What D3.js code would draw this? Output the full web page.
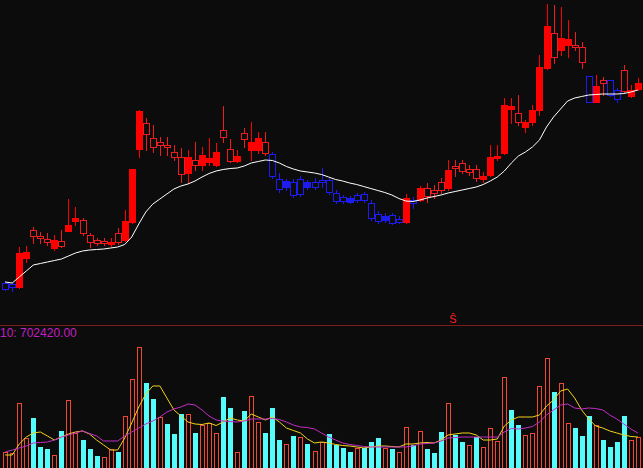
<!DOCTYPE html>
<html><head><meta charset="utf-8">
<script src="https://cdn.jsdelivr.net/npm/d3@7/dist/d3.min.js"></script>
<style>html,body{margin:0;padding:0;background:#0c0c0c;overflow:hidden}svg{display:block}</style>
</head><body><div id="chart"></div>
<script>
// ---- data ----
const openP  = [5.14,5.12,5.06,5.64,6.20,6.08,6.02,5.84,5.98,6.18,6.38,6.40,6.10,6.00,5.98,5.92,6.14,6.00,6.36,7.82,8.34,8.04,7.96,7.90,7.76,7.66,7.34,7.60,7.50,7.56,7.50,8.20,7.82,7.58,8.14,7.80,7.80,7.96,7.72,7.22,7.06,7.16,7.22,7.06,7.16,7.20,7.20,6.94,6.86,6.76,6.90,6.92,6.74,6.52,6.40,6.50,6.42,6.36,6.80,6.80,7.04,7.00,7.16,7.04,7.48,7.54,7.42,7.42,7.22,7.30,7.64,7.74,8.62,8.54,8.26,8.36,8.60,9.44,10.14,9.80,9.90,9.90,9.86,9.28,8.76,9.20,9.20,9.00,9.40,8.88,9.02];
const highP  = [5.18,5.16,5.86,5.88,6.26,6.16,6.14,6.10,6.20,6.82,6.66,6.44,6.14,6.04,6.04,6.04,6.24,6.60,7.42,8.60,8.44,8.30,8.06,8.06,7.90,7.84,7.80,7.96,7.86,8.04,7.94,8.68,8.02,7.80,8.24,8.36,8.16,8.16,7.76,7.34,7.22,7.22,7.28,7.20,7.24,7.44,7.24,7.00,6.90,6.88,6.94,6.96,6.80,6.58,6.54,6.54,6.48,6.92,6.86,7.08,7.14,7.10,7.24,7.60,7.60,7.60,7.50,7.50,7.36,7.90,7.90,8.84,8.84,8.90,8.40,8.70,9.70,10.72,10.70,10.66,10.40,10.16,9.96,9.28,9.30,9.26,9.20,9.04,9.50,9.10,9.24];
const lowP   = [5.00,4.98,5.04,5.56,5.94,5.94,5.90,5.80,5.86,6.18,6.30,6.10,5.86,5.90,5.90,5.88,5.92,5.98,6.34,7.66,7.80,7.76,7.70,7.70,7.60,7.16,7.14,7.40,7.40,7.50,7.48,7.96,7.56,7.56,7.86,7.60,7.74,7.70,7.24,6.96,7.00,6.86,6.88,7.02,7.02,7.06,6.92,6.74,6.74,6.74,6.76,6.76,6.40,6.34,6.36,6.32,6.34,6.34,6.64,6.78,6.76,6.84,6.94,7.00,7.28,7.34,7.30,7.18,7.16,7.28,7.60,7.72,8.34,8.30,8.16,8.30,8.50,9.42,9.54,9.70,9.66,9.80,9.44,8.76,8.76,8.90,8.88,8.76,8.96,8.86,9.00];
const closeP = [5.02,5.06,5.74,5.76,6.08,6.04,5.96,6.00,5.88,6.30,6.44,6.14,5.96,5.94,5.94,5.96,5.96,6.38,7.42,8.58,8.12,7.86,7.90,7.86,7.66,7.32,7.66,7.50,7.70,7.64,7.76,8.06,7.58,7.68,8.02,7.96,8.04,7.74,7.28,7.02,7.18,6.90,6.92,7.16,7.06,7.16,6.96,6.78,6.78,6.84,6.80,6.80,6.44,6.38,6.48,6.34,6.36,6.84,6.74,7.04,6.88,6.94,7.00,7.40,7.44,7.38,7.36,7.24,7.28,7.66,7.68,8.70,8.68,8.36,8.36,8.60,9.46,10.28,9.66,10.04,10.02,9.86,9.56,8.76,9.08,9.14,8.90,8.82,8.98,9.00,9.14];
// 1 = red (trend up), 0 = blue (trend down)
const trend  = [0,0,1,1,1,1,1,1,1,1,1,1,1,1,1,1,1,1,1,1,1,1,1,1,1,1,1,1,1,1,1,1,1,1,1,1,1,1,0,0,0,0,0,0,0,0,0,0,0,0,0,0,0,0,0,0,0,1,0,1,1,1,1,1,1,1,1,1,1,1,1,1,1,1,1,1,1,1,1,1,1,1,1,0,1,1,0,0,1,1,1];
const maP    = [5.16,5.14,5.26,5.38,5.50,5.53,5.56,5.59,5.62,5.68,5.74,5.78,5.80,5.81,5.82,5.84,5.86,5.91,6.06,6.32,6.56,6.72,6.82,6.92,7.02,7.08,7.12,7.18,7.26,7.33,7.38,7.41,7.43,7.44,7.48,7.54,7.57,7.60,7.59,7.54,7.47,7.42,7.38,7.36,7.34,7.31,7.26,7.21,7.18,7.14,7.11,7.07,7.03,6.99,6.95,6.90,6.83,6.78,6.77,6.80,6.84,6.87,6.90,6.94,6.97,7.00,7.03,7.06,7.11,7.18,7.26,7.38,7.54,7.68,7.76,7.86,8.00,8.26,8.46,8.62,8.78,8.84,8.87,8.90,8.91,8.92,8.92,8.92,8.93,8.96,9.00];
const volume = [327000,307000,1298000,596000,1009000,427000,387000,255000,749000,1365000,708000,562000,387000,247000,227000,375000,327000,1044000,1786000,2422000,1712000,1379000,1018000,883000,682000,1084000,1084000,708000,863000,897000,708000,1431000,1210000,327000,1150000,1445000,923000,708000,1210000,562000,482000,642000,628000,482000,347000,528000,682000,462000,395000,327000,395000,395000,522000,596000,395000,375000,327000,817000,462000,749000,375000,307000,729000,1311000,662000,528000,462000,616000,427000,797000,548000,1820000,1164000,863000,662000,696000,1646000,2202000,1531000,1712000,897000,809000,642000,1044000,863000,562000,427000,528000,1044000,562000,628000];
// 1 = up volume (hollow red), 0 = down volume (cyan)
const volUp  = [1,1,1,1,0,0,0,1,0,1,1,0,0,0,1,1,0,1,1,1,0,0,1,0,0,0,1,0,1,1,1,0,0,1,0,1,1,0,0,0,1,0,1,0,1,1,0,0,0,0,1,0,0,0,1,0,1,1,0,1,0,0,0,1,0,0,1,0,1,1,1,1,0,0,1,1,1,1,0,1,1,0,0,0,1,0,0,0,0,1,1];
const volMA5 = [261000,261000,482000,622000,703000,723000,643000,562000,622000,683000,723000,743000,683000,562000,462000,361000,361000,602000,904000,1225000,1486000,1647000,1647000,1406000,1165000,1044000,924000,884000,873000,904000,853000,924000,1004000,964000,944000,1084000,1024000,964000,1024000,924000,803000,753000,703000,582000,502000,522000,502000,472000,452000,442000,422000,402000,422000,442000,442000,432000,422000,482000,482000,502000,512000,502000,562000,663000,683000,703000,703000,663000,562000,562000,582000,843000,964000,1024000,1024000,1024000,1064000,1245000,1365000,1546000,1586000,1406000,1165000,984000,843000,803000,743000,703000,663000,633000,622000];
const volMA10= [321000,361000,402000,442000,502000,512000,522000,562000,622000,663000,703000,743000,693000,643000,542000,542000,542000,643000,723000,803000,884000,944000,1024000,1124000,1185000,1225000,1285000,1265000,1165000,1044000,964000,944000,934000,924000,944000,984000,984000,984000,994000,974000,924000,863000,823000,813000,783000,703000,622000,562000,502000,472000,452000,432000,422000,422000,422000,422000,422000,422000,442000,482000,492000,502000,542000,602000,612000,622000,622000,622000,622000,622000,622000,723000,793000,783000,803000,833000,924000,1064000,1165000,1265000,1285000,1205000,1185000,1205000,1195000,1165000,1064000,984000,884000,783000,702420];
const volLabel = "10: " + volMA10[volMA10.length-1].toFixed(2);

// ---- drawing ----
const W = 643, H = 468;
const svg = d3.select("#chart").append("svg").attr("width", W).attr("height", H)
  .style("background", "#0c0c0c");
svg.append("rect").attr("width", W).attr("height", H).attr("fill", "#0c0c0c");

const N = openP.length;
const x = d3.scaleLinear().domain([0, N - 1]).range([5.2, 637.9]);
const y = d3.scaleLinear().domain([4.3, 10.8]).range([325, 0]);
const vy = d3.scaleLinear().domain([0, 2500000]).range([468, 343.5]);

const RED = "#ff0000", RED_H = "#ee1c1c", BLUE = "#1c1cf0";
const g = svg.append("g").attr("shape-rendering", "crispEdges");

// separator
g.append("line").attr("x1", 0).attr("x2", W).attr("y1", 325.5).attr("y2", 325.5)
  .attr("stroke", "#7a1c1c");

// candles
d3.range(N).forEach(i => {
  const cx = Math.round(x(i));
  const col = trend[i] ? (closeP[i] > openP[i] ? RED : RED_H) : BLUE;
  const top = Math.round(y(Math.max(openP[i], closeP[i])));
  const bot = Math.round(y(Math.min(openP[i], closeP[i])));
  const hi = Math.round(y(highP[i])), lo = Math.round(y(lowP[i]));
  const filled = closeP[i] > openP[i];
  if (filled) {
    g.append("line").attr("x1", cx + 0.5).attr("x2", cx + 0.5).attr("y1", hi).attr("y2", lo + 1).attr("stroke", col);
    g.append("rect").attr("x", cx - 3).attr("y", top).attr("width", 7).attr("height", Math.max(1, bot - top + 1)).attr("fill", col);
  } else {
    if (hi < top) g.append("line").attr("x1", cx + 0.5).attr("x2", cx + 0.5).attr("y1", hi).attr("y2", top).attr("stroke", col);
    if (lo > bot) g.append("line").attr("x1", cx + 0.5).attr("x2", cx + 0.5).attr("y1", bot + 1).attr("y2", lo + 1).attr("stroke", col);
    if (bot - top < 1) {
      g.append("line").attr("x1", cx - 3).attr("x2", cx + 4).attr("y1", top + 0.5).attr("y2", top + 0.5).attr("stroke", col);
    } else {
      g.append("rect").attr("x", cx - 2.5).attr("y", top + 0.5).attr("width", 6).attr("height", bot - top)
        .attr("fill", "none").attr("stroke", col);
    }
  }
});

// price moving average
svg.append("path").datum(maP)
  .attr("d", d3.line().x((d, i) => x(i)).y(d => y(d)))
  .attr("fill", "none").attr("stroke", "#ffffff").attr("stroke-width", 1);

// volume bars
d3.range(N).forEach(i => {
  const cx = Math.round(x(i));
  const t = Math.round(vy(volume[i]));
  if (volUp[i]) {
    g.append("rect").attr("x", cx - 2 + 0.5).attr("y", t + 0.5).attr("width", 4).attr("height", H - t + 2)
      .attr("fill", "none").attr("stroke", "#f24832");
  } else {
    g.append("rect").attr("x", cx - 2).attr("y", t).attr("width", 5).attr("height", H - t + 2)
      .attr("fill", "#55fcfc");
  }
});

// volume moving averages
svg.append("path").datum(volMA5)
  .attr("d", d3.line().x((d, i) => x(i)).y(d => vy(d)))
  .attr("fill", "none").attr("stroke", "#f2d21a").attr("stroke-width", 1);
svg.append("path").datum(volMA10)
  .attr("d", d3.line().x((d, i) => x(i)).y(d => vy(d)))
  .attr("fill", "none").attr("stroke", "#c42ec4").attr("stroke-width", 1);

// labels
svg.append("text").attr("x", 0).attr("y", 337).text(volLabel)
  .attr("fill", "#c41ec4").attr("font-family", "Liberation Sans, Arial, sans-serif").attr("font-size", 12);
svg.append("text").attr("x", 453).attr("y", 323).attr("text-anchor", "middle").text("Ŝ")
  .attr("fill", "#ff2020").attr("font-family", "Liberation Sans, Arial, sans-serif").attr("font-size", 11);
</script></body></html>
